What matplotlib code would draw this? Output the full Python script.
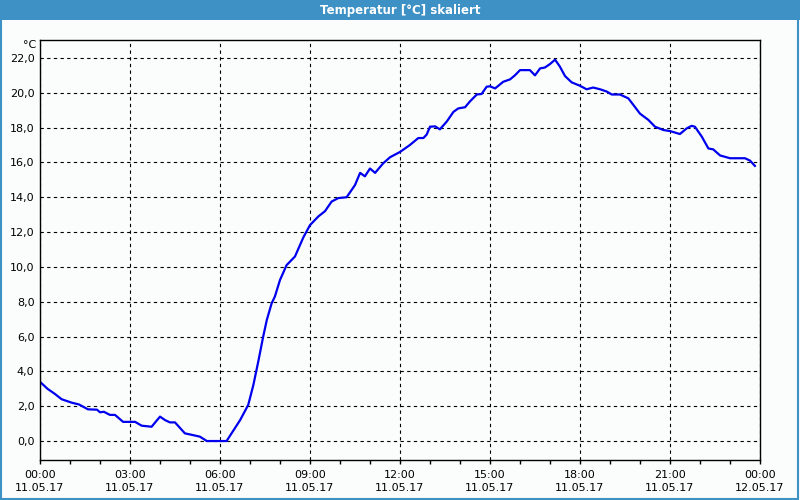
import matplotlib
matplotlib.use("Agg")
import matplotlib.pyplot as plt
from matplotlib.patches import Rectangle
from matplotlib.ticker import MultipleLocator, FuncFormatter

# hours since 11.05.17 00:00 and temperature in °C
hours = [0.0, 0.25, 0.5, 0.72, 1.06, 1.3, 1.6, 1.9, 2.0, 2.13, 2.33, 2.5, 2.77, 3.17,
         3.39, 3.72, 4.0, 4.17, 4.33, 4.5, 4.83, 5.1, 5.33, 5.56, 6.22, 6.67, 6.94,
         7.11, 7.28, 7.44, 7.56, 7.72, 7.83, 8.0, 8.22, 8.5, 8.78, 9.0, 9.28, 9.5,
         9.72, 9.94, 10.22, 10.5, 10.67, 10.83, 11.0, 11.17, 11.44, 11.67, 11.89,
         12.0, 12.33, 12.61, 12.78, 12.89, 13.0, 13.17, 13.33, 13.56, 13.78, 13.94,
         14.17, 14.33, 14.56, 14.72, 14.89, 15.0, 15.17, 15.44, 15.67, 15.83, 16.0,
         16.33, 16.5, 16.67, 16.83, 17.0, 17.17, 17.33, 17.5, 17.72, 18.0, 18.22,
         18.44, 18.67, 18.89, 19.06, 19.33, 19.61, 19.78, 20.0, 20.28, 20.5, 20.78,
         21.0, 21.33, 21.56, 21.72, 21.83, 22.06, 22.28, 22.44, 22.67, 23.0, 23.5,
         23.67, 23.83]
temps = [3.4, 3.0, 2.7, 2.4, 2.2, 2.1, 1.82, 1.8, 1.65, 1.68, 1.5, 1.5, 1.1, 1.1,
         0.88, 0.82, 1.4, 1.2, 1.07, 1.07, 0.44, 0.34, 0.25, 0.0, 0.0, 1.2, 2.07,
         3.2, 4.6, 6.0, 6.95, 7.9, 8.3, 9.25, 10.1, 10.6, 11.7, 12.4, 12.9, 13.2,
         13.75, 13.95, 14.0, 14.7, 15.4, 15.2, 15.65, 15.4, 15.95, 16.3, 16.5,
         16.6, 17.0, 17.4, 17.4, 17.6, 18.05, 18.07, 17.9, 18.35, 18.9, 19.1,
         19.17, 19.5, 19.9, 19.93, 20.35, 20.37, 20.25, 20.63, 20.77, 21.0, 21.3,
         21.3, 21.0, 21.4, 21.45, 21.65, 21.9, 21.5, 20.96, 20.6, 20.4, 20.2,
         20.3, 20.2, 20.07, 19.9, 19.9, 19.68, 19.3, 18.8, 18.44, 18.05, 17.86,
         17.8, 17.63, 17.96, 18.1, 18.05, 17.48, 16.8, 16.75, 16.4, 16.24, 16.24,
         16.1, 15.8]
tick_times = ["00:00", "03:00", "06:00", "09:00", "12:00", "15:00", "18:00", "21:00", "00:00"]
tick_dates = ["11.05.17"] * 8 + ["12.05.17"]

fig = plt.figure(figsize=(8, 5), dpi=100, facecolor="#fbfdfc")

# title bar and blue window border
fig.patches.append(Rectangle((0, 0.96), 1, 0.04, transform=fig.transFigure,
                             facecolor="#3d91c4", edgecolor="none", zorder=0))
fig.patches.append(Rectangle((0.001, 0.002), 0.997, 0.996, transform=fig.transFigure,
                             facecolor="none", edgecolor="#3d91c4", lw=1.5, zorder=1))
fig.text(0.5, 0.979, "Temperatur [°C] skaliert", color="white", fontsize=8.5,
         fontweight="bold", ha="center", va="center")

ax = fig.add_axes([0.05, 0.08, 0.9, 0.84])
ax.set_facecolor("#fbfdfc")
ax.plot(hours, temps, color="#0000ee", lw=1.6)

ax.set_xlim(0, 24)
ax.set_ylim(-1.09, 23.03)
ax.set_xticks(range(0, 25, 3))
ax.set_xticklabels([t + "\n" + d for t, d in zip(tick_times, tick_dates)])
ax.xaxis.set_minor_locator(MultipleLocator(1))
ax.yaxis.set_major_locator(MultipleLocator(2))
ax.yaxis.set_major_formatter(FuncFormatter(lambda v, p: ("%.1f" % v).replace(".", ",")))
ax.tick_params(axis="x", which="both", length=3, width=1, labelsize=8, pad=4,
               direction="out")
ax.tick_params(axis="y", which="both", length=0, labelsize=8, pad=4)
for lab in ax.get_xticklabels():
    lab.set_linespacing(1.45)

ax.grid(True, which="major", color="black", ls=(0, (3, 3)), lw=0.8)
for s in ax.spines.values():
    s.set_color("black")
    s.set_linewidth(1)

ax.text(-0.005, 1.0, "°C", transform=ax.transAxes, ha="right", va="top", fontsize=8)

fig.savefig("out.png", dpi=100, facecolor=fig.get_facecolor())
